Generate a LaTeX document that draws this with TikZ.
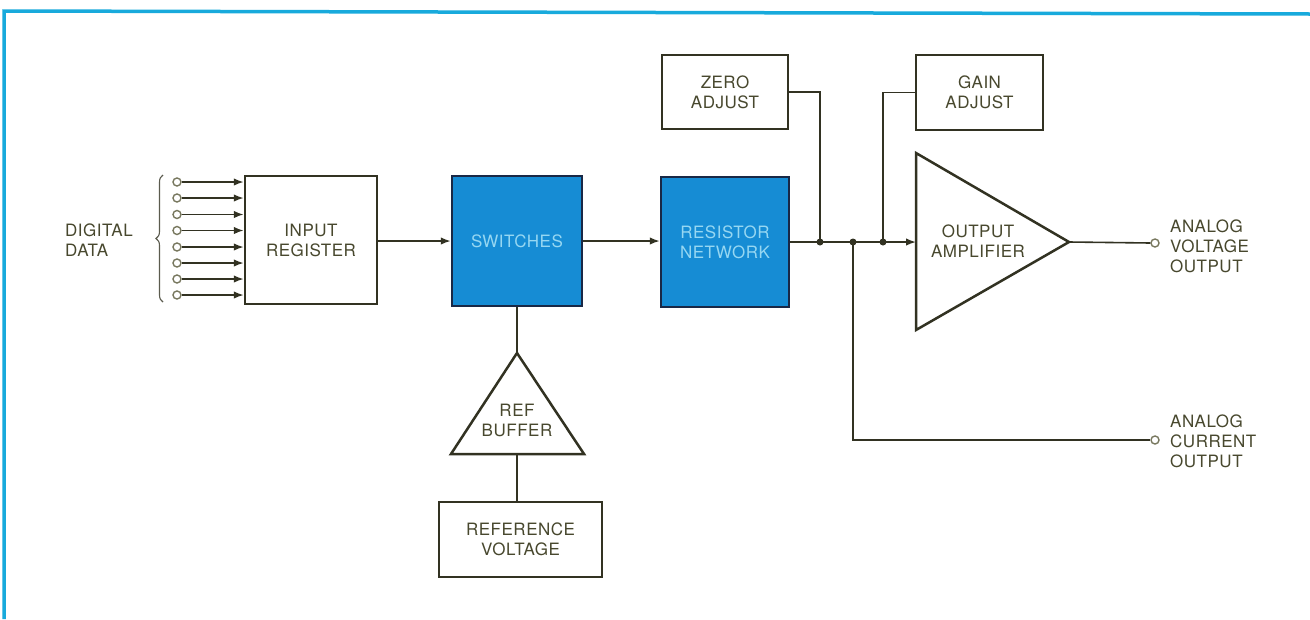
\documentclass[tikz,border=0pt]{standalone}
\usepackage{fontspec}
\setmainfont{TeX Gyre Heros}[LetterSpace=3]
\usetikzlibrary{arrows.meta,decorations.pathreplacing}
\definecolor{frameblue}{RGB}{24,170,220}
\definecolor{boxblue}{RGB}{22,140,212}
\definecolor{boxtext}{RGB}{150,215,242}
\definecolor{navy}{RGB}{25,40,70}
\definecolor{ink}{RGB}{50,50,34}
\definecolor{txt}{RGB}{72,72,46}
\definecolor{pincol}{RGB}{120,120,95}
\begin{document}
\begin{tikzpicture}[x=1pt,y=-1pt,
  txtfont/.style={font=\fontsize{17}{20}\selectfont},
  box/.style={draw=ink, line width=2.5pt, fill=white, inner sep=0pt, align=center, text=txt, txtfont},
  bluebox/.style={box, draw=navy, fill=boxblue, text=boxtext},
  wire/.style={draw=ink, line width=1.6pt},
  arr/.style={wire, -{Latex[length=10pt,width=7.5pt]}},
  lbl/.style={text=txt, inner sep=0pt, txtfont},
  tri/.style={draw=ink, line width=2.5pt, line join=miter, fill=white},
  pin/.style={circle, draw=pincol, line width=1.4pt, fill=white, minimum size=8pt, inner sep=0pt},
  jdot/.style={circle, fill=ink, minimum size=7pt, inner sep=0pt}]

\useasboundingbox (0,0) rectangle (1310,619);
\fill[white] (0,0) rectangle (1310,619);
\draw[frameblue, line width=3.5pt] (4,619) -- (4,11) -- (1310,14);

% boxes
\node[box, minimum width=132, minimum height=128] (inreg) at (311,240) {INPUT\\REGISTER};
\node[bluebox, minimum width=130, minimum height=130] (switches) at (517,241) {SWITCHES};
\node[bluebox, minimum width=128, minimum height=130] (resnet) at (725,242) {RESISTOR\\NETWORK};
\node[box, minimum width=126, minimum height=74] (zero) at (725,92) {ZERO\\ADJUST};
\node[box, minimum width=127, minimum height=75] (gain) at (979.5,92.5) {GAIN\\ADJUST};
\node[box, minimum width=163, minimum height=75] (refv) at (520.5,539.5) {REFERENCE\\VOLTAGE};

% output amplifier
\coordinate (ampin) at (916,242);
\coordinate (ampout) at (1069,242);
\draw[tri] (916,153) -- (ampout) -- (916,330) -- cycle;
\node[lbl, align=center] (amptxt) at (978,241) {OUTPUT\\AMPLIFIER};

% reference buffer
\coordinate (rbtop) at (517,353);
\coordinate (rbbot) at (517,454);
\draw[tri] (rbtop) -- (584,454) -- (451,454) -- cycle;
\node[lbl, align=center] (rbtxt) at (517,420) {REF\\BUFFER};

% junctions and pins
\node[jdot] (j1) at (820,242) {};
\node[jdot] (j2) at (853,242) {};
\node[jdot] (j3) at (883,242) {};
\node[pin] (vout) at (1155,243) {};
\node[pin] (iout) at (1155,440) {};

% inputs
\foreach \i/\y in {1/182,2/198,3/214.5,4/230.5,5/247,6/263,7/279,8/295}{
  \node[pin] (in\i) at (177,\y) {};
  \draw[arr] (in\i.east) -- (in\i -| inreg.west);
}
\draw[ink!80, line width=1.1pt, decorate, decoration={brace, amplitude=7pt}] (163,302) -- (163,175);
\node[lbl, align=left, anchor=west] (dd) at (65,240) {DIGITAL\\DATA};

% signal path
\draw[arr] (inreg.east |- switches.west) -- (switches.west);
\draw[arr] (switches.east) -- (resnet.west |- switches.east);
\draw[wire] (resnet.east) -- (j1.center) -- (j2.center) -- (j3.center);
\draw[arr] (j3.center) -- (ampin);
\draw[wire] (zero.east) -| (j1.center);
\draw[wire] (gain.west) -| (j3.center);
\draw[wire] (j2.center) |- (iout.west);
\draw[wire] (ampout) -- (vout.west);
\draw[wire] (switches.south) -- (rbtop);
\draw[wire] (rbbot) -- (rbbot |- refv.north);

% output labels
\node[lbl, align=left, anchor=west] (vlbl) at (1170,246) {ANALOG\\VOLTAGE\\OUTPUT};
\node[lbl, align=left, anchor=west] (ilbl) at (1170,441) {ANALOG\\CURRENT\\OUTPUT};
\end{tikzpicture}
\end{document}
